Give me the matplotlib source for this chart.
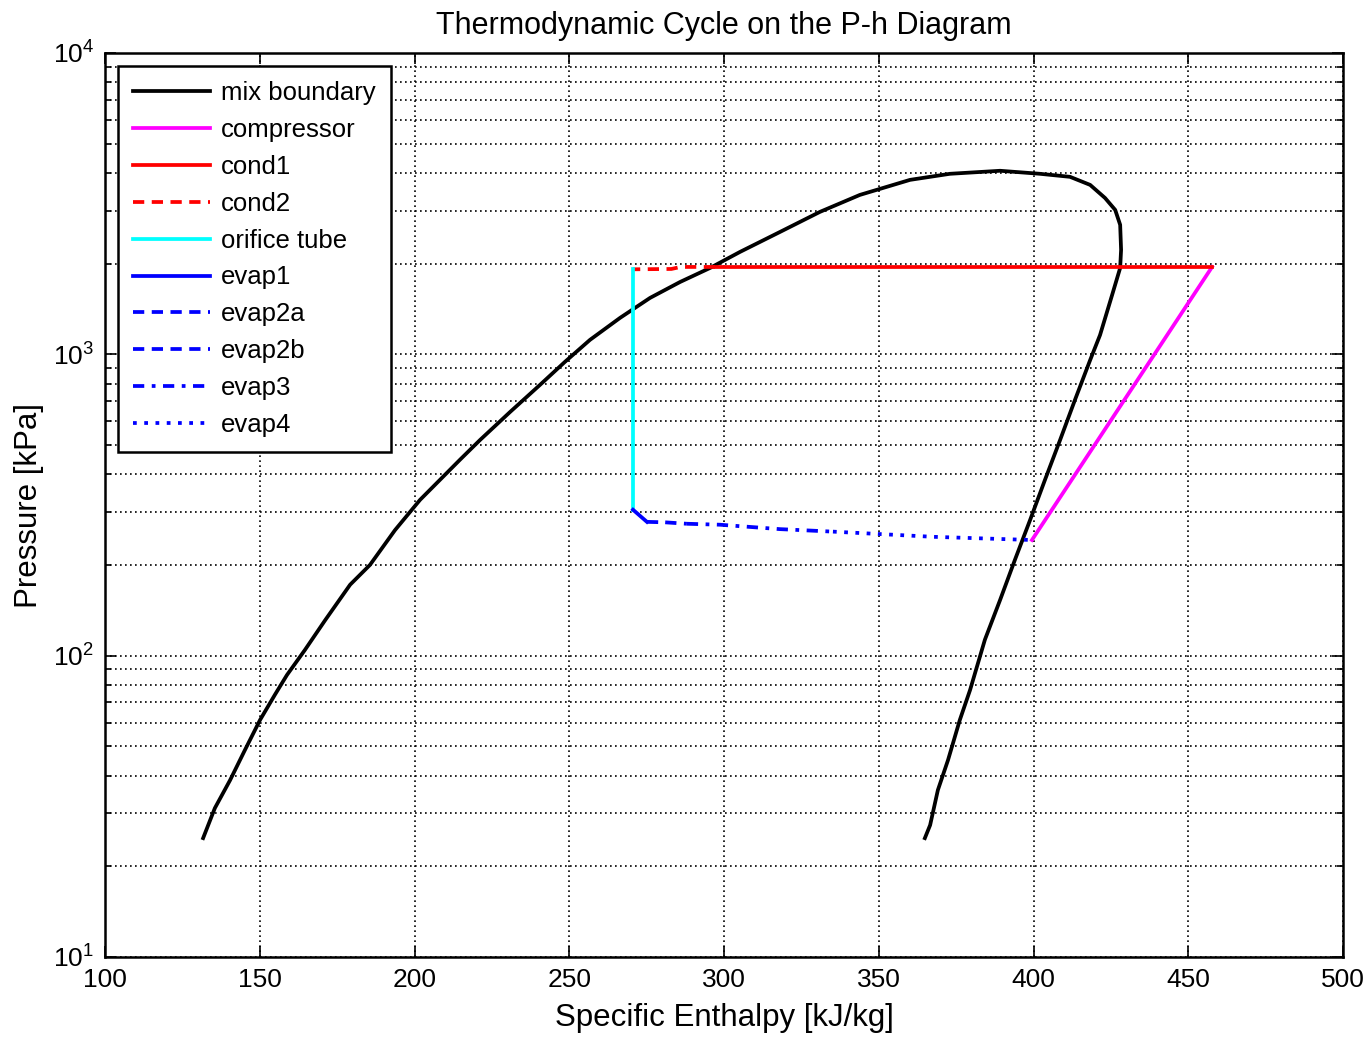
import numpy as np
import matplotlib
matplotlib.use("Agg")
import matplotlib.pyplot as plt
from matplotlib.ticker import LogLocator, FixedLocator, NullFormatter

# --- data (h in kJ/kg, P in kPa) ---
dome_h = [131.7, 135.5, 140.4, 145.2, 150.1, 154.9, 158.8, 164.6, 171.1, 179.2,
          185.6, 193.7, 201.8, 208.2, 214.7, 221.2, 230.9, 240.5, 248.6, 256.7,
          266.4, 276.1, 285.8, 295.5, 305.2, 318.1, 331.0, 343.9, 360.1, 373.0,
          389.2, 402.1, 411.8, 418.3, 423.1, 426.4, 428.0, 428.3, 428.0, 425.4,
          421.5, 418.3, 413.4, 408.6, 403.7, 398.9, 394.0, 389.2, 384.3, 379.5,
          376.2, 372.4, 369.1, 366.6, 364.9]
dome_p = [24.8, 31.2, 38.6, 48.6, 61.2, 74.2, 86.3, 104.5, 131, 172,
          200, 261, 329, 383, 447, 520, 644, 791, 944, 1117,
          1321, 1539, 1738, 1935, 2188, 2548, 2970, 3381, 3793, 3973,
          4066, 3973, 3882, 3650, 3304, 3015, 2690, 2223, 1935, 1574,
          1159, 957, 706, 520, 383, 282, 208, 153, 113, 76.9,
          61.2, 45.1, 35.8, 27.4, 24.8]

comp_h = [399.5, 457.7]
comp_p = [242, 1950]
cond1_h = [457.7, 297.1]
cond1_p = [1950, 1950]
cond2_h = [297.1, 286.0, 283.0, 270.6]
cond2_p = [1950, 1950, 1920, 1915]
orif_h = [270.6, 270.6]
orif_p = [1915, 305]
evap1_h = [270.6, 275.1]
evap1_p = [305, 278]
evap2a_h = [275.1, 281.0]
evap2a_p = [278, 277]
evap2b_h = [281.0, 288.0]
evap2b_p = [277, 274]
evap3_h = [288.0, 298.7, 318.0, 335.2]
evap3_p = [274, 272, 263, 258]
evap4_h = [335.2, 367.5, 399.5]
evap4_p = [258, 248, 242]

plt.rcParams['font.family'] = ['Liberation Sans', 'DejaVu Sans']
plt.rcParams['mathtext.fontset'] = 'custom'
plt.rcParams['mathtext.rm'] = 'Liberation Sans'
plt.rcParams['mathtext.it'] = 'Liberation Sans'

fig = plt.figure(figsize=(13.69, 10.38), dpi=100)
ax = fig.add_axes([105/1369, 81/1038, 1238/1369, 904/1038])

lw = 2.7
ax.plot(dome_h, dome_p, color='black', lw=lw, label='mix boundary')
ax.plot(comp_h, comp_p, color='magenta', lw=lw, label='compressor')
ax.plot(cond1_h, cond1_p, color='red', lw=lw, label='cond1')
ax.plot(cond2_h, cond2_p, color='red', lw=lw, ls=(0, (3, 2)), label='cond2')
ax.plot(orif_h, orif_p, color='cyan', lw=lw, label='orifice tube')
ax.plot(evap1_h, evap1_p, color='blue', lw=lw, label='evap1')
ax.plot(evap2a_h, evap2a_p, color='blue', lw=lw, ls=(0, (3, 2)), label='evap2a')
ax.plot(evap2b_h, evap2b_p, color='blue', lw=lw, ls=(0, (3, 2)), label='evap2b')
ax.plot(evap3_h, evap3_p, color='blue', lw=lw, ls=(0, (3, 2, 1, 2)), label='evap3')
ax.plot(evap4_h, evap4_p, color='blue', lw=lw, ls=(0, (1, 2)), label='evap4')

ax.set_yscale('log')
ax.set_xlim(100, 500)
ax.set_ylim(10, 1e4)
ax.xaxis.set_major_locator(FixedLocator(np.arange(100, 501, 50)))
ax.yaxis.set_major_locator(LogLocator(base=10, numticks=10))
ax.yaxis.set_minor_locator(LogLocator(base=10, subs=np.arange(2, 10), numticks=10))
ax.yaxis.set_minor_formatter(NullFormatter())

ax.grid(True, which='major', color='black', ls=(0, (1, 2)), lw=1.2)
ax.grid(True, which='minor', axis='y', color='black', ls=(0, (1, 2)), lw=1.2)
ax.tick_params(which='both', direction='in', top=True, right=True, labelsize=19, width=1.2)
ax.tick_params(which='major', length=8, pad=8)
ax.tick_params(which='minor', length=4)
for s in ax.spines.values():
    s.set_linewidth(1.8)

ax.set_title('Thermodynamic Cycle on the P-h Diagram', fontsize=22, pad=14)
ax.set_xlabel('Specific Enthalpy [kJ/kg]', fontsize=22.5, labelpad=8)
ax.set_ylabel('Pressure [kPa]', fontsize=22.5, labelpad=6)

leg = ax.legend(loc='upper left', fontsize=18.5, handlelength=3.0, handletextpad=0.4,
                labelspacing=0.5, borderpad=0.6, fancybox=False, framealpha=1,
                borderaxespad=0.5)
leg.get_frame().set_edgecolor('black')
leg.get_frame().set_linewidth(1.8)

fig.savefig('out.png', dpi=100)
